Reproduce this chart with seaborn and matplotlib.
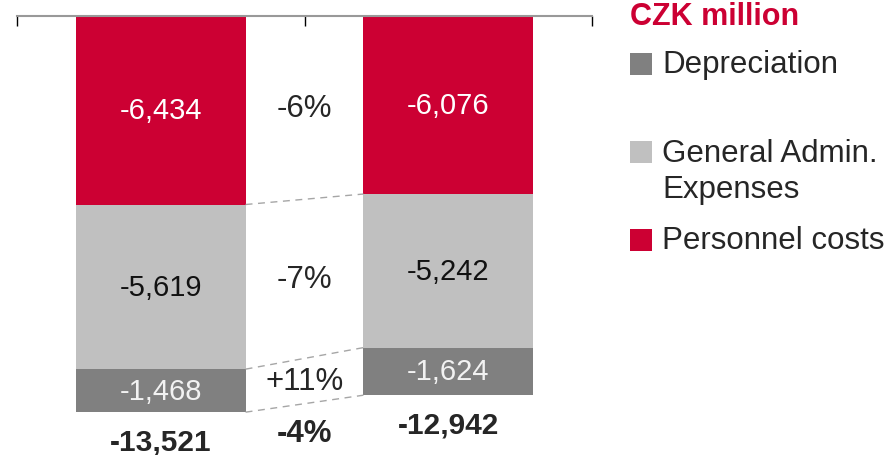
import numpy as np
import pandas as pd
import matplotlib
matplotlib.use("Agg")
import matplotlib.pyplot as plt
import seaborn as sns
from matplotlib.patches import Rectangle

# data (CZK million)
periods = ["Previous", "Current"]
personnel = [-6434, -6076]
admin = [-5619, -5242]
depreciation = [-1468, -1624]
totals = [-13521, -12942]
segment_changes = ["-6%", "-7%", "+11%"]
total_change = "-4%"

series_names = ["Depreciation", "General Admin.\nExpenses", "Personnel costs"]
RED = "#CC0033"
LIGHT = "#C0C0C0"
DARK = "#808080"

sns.set_style("white")
plt.rcParams["font.family"] = ["Liberation Sans", "DejaVu Sans"]

W, H = 890, 456
fig = plt.figure(figsize=(W / 100, H / 100), dpi=100)
ax = fig.add_axes([17 / W, 0, 575 / W, 439 / H])

df = pd.DataFrame({"period": periods, "personnel": personnel,
                   "admin": admin, "depreciation": depreciation})
df["lvl1"] = df["personnel"]
df["lvl2"] = df["personnel"] + df["admin"]
df["lvl3"] = df["lvl2"] + df["depreciation"]

bw = 0.59
# stacked by overdrawing cumulative bars
for col, colour in [("lvl3", DARK), ("lvl2", LIGHT), ("lvl1", RED)]:
    sns.barplot(data=df, x="period", y=col, order=periods, color=colour,
                saturation=1, width=bw, linewidth=0, ax=ax)

ax.set_xlim(-0.5, 1.5)
ax.set_ylim(-14983, 0)

# segment value labels
fs = 21
fs_pct = 22.5
for i in range(2):
    ax.text(i, df["lvl1"][i] / 2, f"{personnel[i]:,}", ha="center", va="center",
            color="white", fontsize=fs)
    ax.text(i, (df["lvl1"][i] + df["lvl2"][i]) / 2, f"{admin[i]:,}", ha="center",
            va="center", color="#111111", fontsize=fs)
    ax.text(i, (df["lvl2"][i] + df["lvl3"][i]) / 2, f"{depreciation[i]:,}", ha="center",
            va="center", color="#F2F2F2", fontsize=fs)
    ax.annotate(f"{totals[i]:,}", (i, totals[i]), xytext=(0, -21),
                textcoords="offset points", ha="center", va="center",
                fontsize=21.5, fontweight="bold")

# connector lines between the bars
for lvl in ["lvl1", "lvl2", "lvl3"]:
    ax.plot([0 + bw / 2, 1 - bw / 2], [df[lvl][0], df[lvl][1]], color="#A6A6A6",
            lw=1, ls=(0, (5, 4)))

# change labels in the gap
tops = [np.zeros(2), df["lvl1"].values, df["lvl2"].values]
bots = [df["lvl1"].values, df["lvl2"].values, df["lvl3"].values]
for lab, t, b in zip(segment_changes, tops, bots):
    ax.text(0.5, ((t + b) / 2).mean(), lab, ha="center", va="center", fontsize=fs_pct)
ax.annotate(total_change, (0.5, np.mean(totals)), xytext=(0, -21),
            textcoords="offset points", ha="center", va="center",
            fontsize=fs_pct, fontweight="bold")

# axis styling: zero line on top with inward ticks
ax.xaxis.tick_top()
ax.set_xticks([-0.5, 0.5, 1.5])
ax.set_xticklabels([])
ax.set_yticks([])
ax.set_xlabel("")
ax.set_ylabel("")
ax.tick_params(axis="x", direction="in", length=7, width=1, color="black", top=True)
for s in ["left", "right", "bottom"]:
    ax.spines[s].set_visible(False)
ax.spines["top"].set_color("#999999")
ax.spines["top"].set_linewidth(1.5)


def px(x, y):
    return x / W, 1 - y / H


# legend drawn on the figure
fig.text(*px(630, 17), "CZK million", color=RED, fontsize=22, fontweight="bold",
         ha="left", va="center")
legend_rows = [(series_names[0], DARK, 65, 65),
               (series_names[1], LIGHT, 153, 172),
               (series_names[2], RED, 241, 241)]
for name, colour, sq_y, txt_y in legend_rows:
    x0, y0 = px(630, sq_y + 11)
    fig.add_artist(Rectangle((x0, y0), 22 / W, 22 / H, transform=fig.transFigure,
                             facecolor=colour, edgecolor="none"))
    fig.text(*px(662, txt_y), name, fontsize=22.5, ha="left", va="center",
             linespacing=1.22)

fig.savefig("out.png", dpi=100)
